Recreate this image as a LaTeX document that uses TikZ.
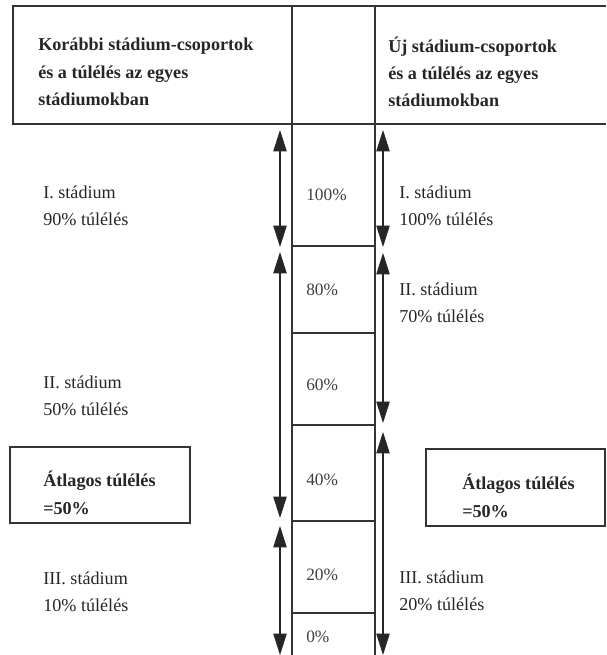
\documentclass[tikz,border=0pt]{standalone}
\usepackage{fontspec}
\setmainfont{Liberation Serif}
\usetikzlibrary{arrows.meta}

\tikzset{
  rule/.style={draw=black!80, line width=1.1pt},
  lbl/.style={anchor=west, align=left, inner sep=0pt, font=\fontsize{13.6}{20.5}\selectfont, text=black!85},
  hdr/.style={lbl, font=\fontsize{13.6}{20.5}\selectfont\bfseries},
  pct/.style={anchor=west, inner sep=0pt, font=\fontsize{13}{16}\selectfont, text=black!75},
  span/.style={{Triangle[width=10pt,length=16pt]}-{Triangle[width=10pt,length=16pt]}, line width=0.8pt, draw=black!85},
}

\begin{document}
\begin{tikzpicture}[x=0.75pt, y=-0.75pt]
    \useasboundingbox (0,0) rectangle (606,655);

    % Header frame (open on the right)
    \draw[rule] (606,6) -- (13,6) -- (13,124) -- (606,124);
    \foreach \x in {292, 375} {
        \draw[rule] (\x,6) -- (\x,655);
    }

    % Percentage column (one cell per step)
    \foreach \y/\p/\ly in {246/80/290, 333/60/385, 425/40/480, 521/20/575, 613/0/637} {
        \draw[rule] (292,\y) -- (375,\y);
        \node[pct] (p\p) at (306,\ly) {\p\%};
    }
    \node[pct] (p100) at (306,195) {100\%};

    % Stage spans, left (old) and right (new)
    \foreach \n/\ya/\yb in {1/130/247, 2/252/518, 3/526/655} {
        \coordinate (la\n) at (280,\ya);
        \coordinate (lb\n) at (280,\yb);
        \draw[span] (la\n) -- (lb\n);
    }
    \foreach \n/\ya/\yb in {1/130/247, 2/253/423, 3/432/655} {
        \coordinate (ra\n) at (383,\ya);
        \coordinate (rb\n) at (383,\yb);
        \draw[span] (ra\n) -- (rb\n);
    }

    % Column headings
    \node[hdr] (hdrold) at (38,72) {Korábbi stádium-csoportok\\és a túlélés az egyes\\stádiumokban};
    \node[hdr] (hdrnew) at (388,72) {Új stádium-csoportok\\és a túlélés az egyes\\stádiumokban};

    % Old stages
    \node[lbl] (old1) at (43,206) {I. stádium\\90\% túlélés};
    \node[lbl] (old2) at (43,396) {II. stádium\\50\% túlélés};
    \node[lbl] (old3) at (43,592) {III. stádium\\10\% túlélés};

    % New stages
    \node[lbl] (new1) at (399,206) {I. stádium\\100\% túlélés};
    \node[lbl] (new2) at (399,303) {II. stádium\\70\% túlélés};
    \node[lbl] (new3) at (399,591) {III. stádium\\20\% túlélés};

    % Average survival boxes
    \draw[rule] (10,447) rectangle (190,523);
    \node[hdr] (avgold) at (43,493) {Átlagos túlélés\\=50\%};
    \draw[rule] (426,449) rectangle (605,526);
    \node[hdr] (avgnew) at (462,496) {Átlagos túlélés\\=50\%};

\end{tikzpicture}
\end{document}
